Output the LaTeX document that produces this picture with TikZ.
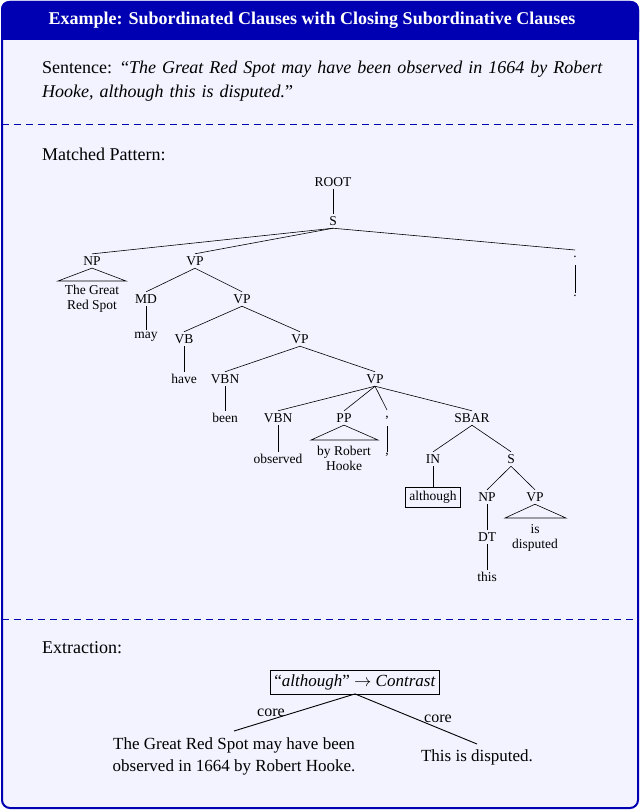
\documentclass[tikz,border=0pt]{standalone}
\usepackage{fontspec}
\setmainfont{Liberation Serif}
\usepackage{amsmath}
\begin{document}
\begin{tikzpicture}[x=1pt,y=-1pt,
 t/.style={font=\fontsize{13.5}{15}\selectfont,inner sep=2.5pt,align=center},
 e/.style={line width=0.6pt},
 big/.style={font=\fontsize{18}{24}\selectfont,align=left}]
\definecolor{hdr}{RGB}{0,0,178}
\definecolor{bg}{RGB}{243,243,255}
\useasboundingbox (0,0) rectangle (640,810);
\fill[bg,draw=hdr,line width=2pt,rounded corners=8pt] (2,2) rectangle (638,808);
\fill[hdr,rounded corners=8pt] (1,1) rectangle (639,40);
\fill[hdr] (1,20) rectangle (639,40);
\node[font=\bfseries\fontsize{18}{20}\selectfont,text=white] (title) at (312,20) {Example: Subordinated Clauses with Closing Subordinative Clauses};
\draw[hdr,dashed,dash pattern=on 7pt off 5pt,line width=0.8pt] (2,124) -- (638,124);
\draw[hdr,dashed,dash pattern=on 7pt off 5pt,line width=0.8pt] (2,619) -- (638,619);
\node[big,anchor=north west,text width=580pt,inner sep=0pt] (sent) at (42,61) {Sentence: ``\textit{The Great Red Spot may have been observed in 1664 by Robert Hooke, although this is disputed.}''};
\node[big,anchor=west,inner sep=0pt] (mp) at (42,154) {Matched Pattern:};
\node[big,anchor=west,inner sep=0pt] (ex) at (42,648) {Extraction:};
% tree
\node[t] (root) at (333,182) {ROOT};
\node[t] (s) at (333,221) {S};
\node[t] (np) at (92,261) {NP};
\node[t] (vp1) at (195,261) {VP};
\node[t] (dot) at (575,257) {.};
\node[t] (dot2) at (575,296) {.};
\node[t] (np1t) at (92,299) {The Great\\Red Spot};
\node[t] (md) at (146,299) {MD};
\node[t] (may) at (146,337) {may};
\node[t] (vp2) at (242,299) {VP};
\node[t] (vb) at (184,339) {VB};
\node[t] (have) at (184,379) {have};
\node[t] (vp3) at (300,339) {VP};
\node[t] (vbn1) at (225,379) {VBN};
\node[t] (been) at (225,418) {been};
\node[t] (vp4) at (375,379) {VP};
\node[t] (vbn2) at (278,418) {VBN};
\node[t] (obs) at (278,459) {observed};
\node[t] (pp) at (344,418) {PP};
\node[t] (ppt) at (344,458) {by Robert\\Hooke};
\node[t] (com) at (387,418) {,};
\node[t] (com2) at (387,455) {,};
\node[t] (sbar) at (472,418) {SBAR};
\node[t] (in) at (433,459) {IN};
\node[t,draw,inner sep=4pt] (alth) at (433,497) {although};
\node[t] (s2) at (511,459) {S};
\node[t] (np2) at (487,497) {NP};
\node[t] (dt) at (487,537) {DT};
\node[t] (this) at (487,577) {this};
\node[t] (vp5) at (535,497) {VP};
\node[t] (vp5t) at (535,538) {is\\disputed};
\draw[e] (root) -- (s);
\draw[e] (s.south) -- (np.north);
\draw[e] (s.south) -- (vp1.north);
\draw[e] (s.south) -- (575,250);
\draw[e] (575,265) -- (575,293);
\draw[e] (vp1.south) -- (md.north);
\draw[e] (vp1.south) -- (vp2.north);
\draw[e] (md) -- (may);
\draw[e] (vp2.south) -- (vb.north);
\draw[e] (vp2.south) -- (vp3.north);
\draw[e] (vb) -- (have);
\draw[e] (vp3.south) -- (vbn1.north);
\draw[e] (vp3.south) -- (vp4.north);
\draw[e] (vbn1) -- (been);
\draw[e] (vp4.south) -- (vbn2.north);
\draw[e] (vp4.south) -- (pp.north);
\draw[e] (vp4.south) -- (387,410);
\draw[e] (387,426) -- (387,452);
\draw[e] (vp4.south) -- (sbar.north);
\draw[e] (vbn2) -- (obs);
\draw[e] (sbar.south) -- (in.north);
\draw[e] (sbar.south) -- (s2.north);
\draw[e] (in) -- (alth);
\draw[e] (s2.south) -- (np2.north);
\draw[e] (s2.south) -- (vp5.north);
\draw[e] (np2) -- (dt);
\draw[e] (dt) -- (this);
\draw[e] (np.south) -- (58,281) -- (126,281) -- cycle;
\draw[e] (pp.south) -- (311,440) -- (378,440) -- cycle;
\draw[e] (vp5.south) -- (505,518) -- (566,518) -- cycle;
% extraction
\node[draw,font=\fontsize{17}{19}\selectfont,inner sep=4pt] (rel) at (355,682) {``\textit{although}'' $\rightarrow$ \textit{Contrast}};
\node[font=\fontsize{17}{22}\selectfont,align=center] (l) at (234,756) {The Great Red Spot may have been\\observed in 1664 by Robert Hooke.};
\node[font=\fontsize{17}{22}\selectfont] (r) at (477,757) {This is disputed.};
\coordinate (lt) at (234,731);
\coordinate (rt) at (477,744);
\draw[line width=0.9pt] (rel.south) -- (lt);
\draw[line width=0.9pt] (rel.south) -- (rt);
\node[font=\fontsize{16}{17}\selectfont] (c1) at (271,713) {core};
\node[font=\fontsize{16}{17}\selectfont] (c2) at (438,719) {core};
\end{tikzpicture}
\end{document}
